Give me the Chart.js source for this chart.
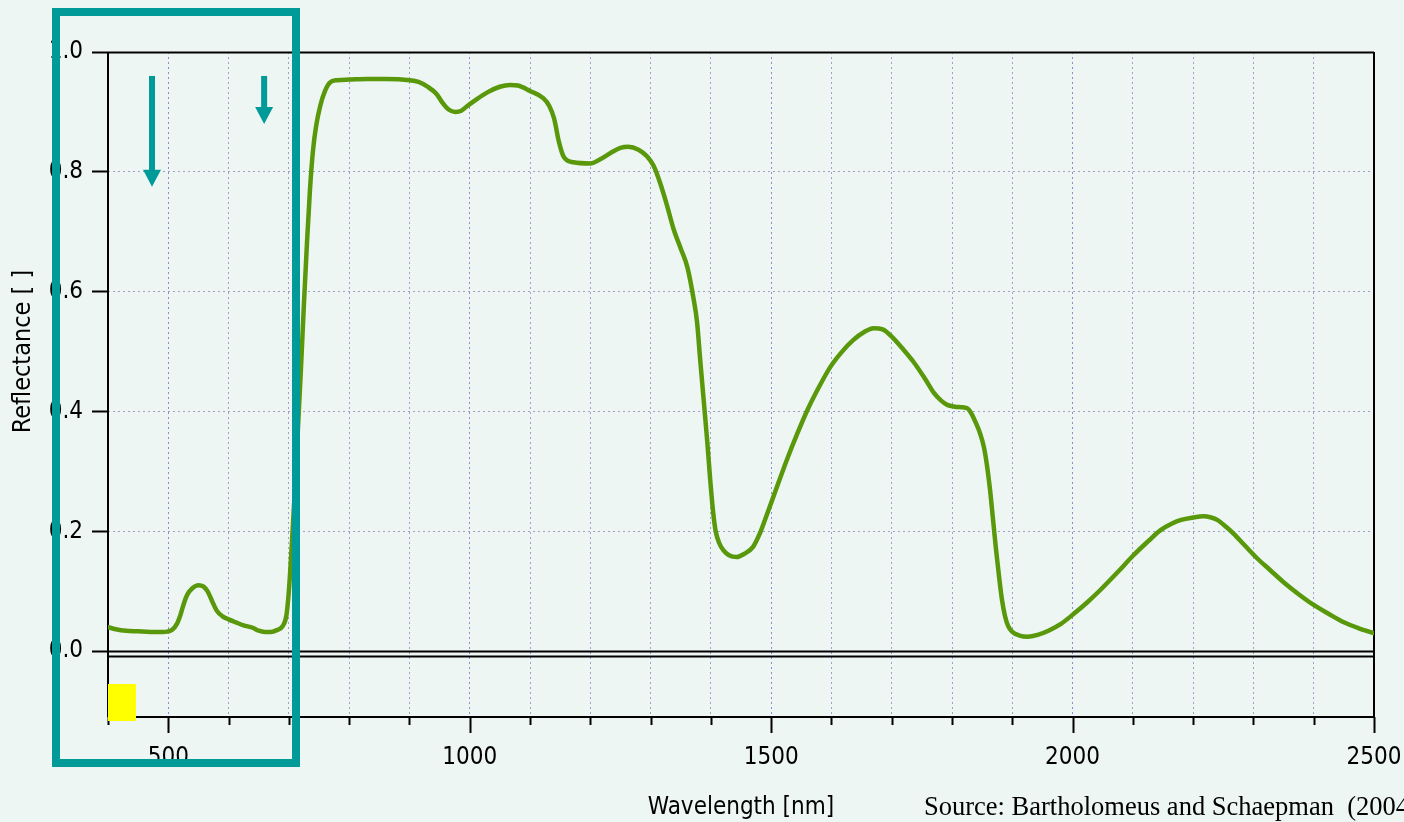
<!DOCTYPE html>
<html>
<head>
<meta charset="utf-8">
<title>Reflectance spectrum</title>
<script src="https://cdn.jsdelivr.net/npm/chart.js@4.4.1/dist/chart.umd.min.js"></script>
<style>
  html, body { margin: 0; padding: 0; background: #eef6f4; }
  #wrap { width: 1404px; height: 822px; position: relative; }
  canvas { display: block; }
</style>
</head>
<body>
<div id="wrap"><canvas id="chart" width="1404" height="822"></canvas></div>
<script>
// Vegetation reflectance spectrum, 400–2500 nm
const wavelengths = [
  400, 415, 430, 450, 470, 490, 500, 507, 514, 520, 526, 532, 540, 550, 558, 565, 572, 580, 590, 600,
  612, 625, 640, 650, 660, 670, 680, 690, 696, 700, 705, 710, 715, 720, 725, 730, 735, 740, 745, 752,
  760, 768, 780, 800, 830, 860, 900, 915, 930, 945, 955, 965, 976, 986, 995, 1010, 1030, 1050, 1067, 1080,
  1100, 1122, 1132, 1140, 1148, 1156, 1172, 1200, 1215, 1233, 1250, 1263, 1280, 1294, 1305, 1316, 1327, 1338, 1350, 1361,
  1371, 1377, 1382, 1388, 1394, 1399, 1404, 1408, 1414, 1421, 1430, 1443, 1455, 1470, 1482, 1493, 1510, 1526, 1543, 1560,
  1580, 1598, 1617, 1636, 1655, 1670, 1685, 1700, 1718, 1736, 1755, 1770, 1782, 1792, 1805, 1818, 1826, 1832, 1840, 1847,
  1853, 1858, 1863, 1868, 1873, 1878, 1883, 1888, 1893, 1900, 1912, 1925, 1942, 1960, 1980, 2003, 2025, 2046, 2075, 2101,
  2125, 2146, 2165, 2180, 2200, 2217, 2230, 2240, 2255, 2267, 2285, 2306, 2328, 2350, 2375, 2400, 2425, 2450, 2475, 2500
];
const reflectance = [
  0.040, 0.036, 0.034, 0.033, 0.032, 0.032, 0.033, 0.036, 0.045, 0.060, 0.080, 0.095, 0.105, 0.110, 0.108, 0.100, 0.085, 0.068, 0.058, 0.053,
  0.048, 0.043, 0.039, 0.034, 0.032, 0.032, 0.035, 0.042, 0.060, 0.100, 0.180, 0.270, 0.370, 0.470, 0.580, 0.680, 0.770, 0.835, 0.875, 0.910,
  0.935, 0.949, 0.953, 0.954, 0.955, 0.955, 0.953, 0.950, 0.942, 0.930, 0.915, 0.904, 0.900, 0.902, 0.909, 0.920, 0.933, 0.942, 0.945, 0.944,
  0.935, 0.923, 0.910, 0.889, 0.850, 0.825, 0.816, 0.814, 0.820, 0.831, 0.840, 0.842, 0.837, 0.826, 0.810, 0.781, 0.745, 0.705, 0.672, 0.641,
  0.590, 0.550, 0.490, 0.420, 0.350, 0.285, 0.230, 0.200, 0.180, 0.168, 0.160, 0.157, 0.162, 0.174, 0.198, 0.228, 0.275, 0.319, 0.362, 0.402,
  0.442, 0.474, 0.499, 0.519, 0.533, 0.539, 0.537, 0.525, 0.505, 0.483, 0.455, 0.431, 0.418, 0.411, 0.408, 0.407, 0.405, 0.397, 0.380, 0.362,
  0.340, 0.310, 0.270, 0.220, 0.170, 0.125, 0.085, 0.058, 0.042, 0.032, 0.026, 0.024, 0.027, 0.034, 0.045, 0.063, 0.082, 0.102, 0.132, 0.160,
  0.183, 0.202, 0.213, 0.219, 0.223, 0.225, 0.223, 0.219, 0.207, 0.196, 0.177, 0.155, 0.135, 0.115, 0.095, 0.077, 0.062, 0.048, 0.038, 0.030
];

// axis ticks
const xGridValues = [400, 500, 600, 700, 800, 900, 1000, 1100, 1200, 1300, 1400, 1500, 1600, 1700, 1800, 1900, 2000, 2100, 2200, 2300, 2400, 2500];
const xLabelValues = [500, 1000, 1500, 2000, 2500];
const yTickValues = [0, 0.2, 0.4, 0.6, 0.8, 1.0];

// absorption markers: [wavelength, start reflectance, tip reflectance]
const arrowMarks = [[473, 0.96, 0.775], [659, 0.96, 0.88]];

const SANS = "'DejaVu Sans Condensed', 'DejaVu Sans', sans-serif";
const TEAL = '#009b98';
const GRID = '#a59dcd';
const GRID_MAJOR = '#9488d0';
const FONT_SIZE = 24;

const decorations = {
  id: 'decorations',
  beforeDatasetsDraw(chart) {
    const { ctx, chartArea: a, scales: { x, y } } = chart;
    ctx.save();
    ctx.strokeStyle = '#000';
    ctx.lineWidth = 2;
    const y1 = Math.round(y.getPixelForValue(1)) + 0.5;
    const y0 = Math.round(y.getPixelForValue(0)) + 0.5;
    ctx.beginPath();
    // top border and the double zero line
    ctx.moveTo(a.left, y1); ctx.lineTo(a.right, y1);
    ctx.moveTo(a.left, y0); ctx.lineTo(a.right, y0);
    ctx.moveTo(a.left, y0 + 5); ctx.lineTo(a.right, y0 + 5);
    // bottom axis
    ctx.moveTo(a.left, a.bottom); ctx.lineTo(a.right, a.bottom);
    // left / right spines
    ctx.moveTo(a.left, a.top); ctx.lineTo(a.left, a.bottom);
    ctx.moveTo(a.right, a.top); ctx.lineTo(a.right, a.bottom);
    ctx.stroke();
    // x tick marks under the axis
    ctx.beginPath();
    x.ticks.forEach(t => {
      const px = Math.round(x.getPixelForValue(t.value)) + 0.5;
      const len = xLabelValues.includes(t.value) ? 16 : 8;
      ctx.moveTo(px, a.bottom); ctx.lineTo(px, a.bottom + len);
    });
    ctx.stroke();
    ctx.restore();
  },
  afterDraw(chart) {
    const { ctx, chartArea: a, scales: { x, y } } = chart;
    ctx.save();
    // colour swatch
    ctx.fillStyle = '#ffff00';
    ctx.fillRect(a.left, a.bottom - 33, 28, 37);

    // y axis title, centred on the 0–1 range
    const yMid = (y.getPixelForValue(0) + y.getPixelForValue(1)) / 2;
    ctx.save();
    ctx.translate(23, yMid);
    ctx.rotate(-Math.PI / 2);
    ctx.font = '25px ' + SANS;
    ctx.fillStyle = '#000';
    ctx.textAlign = 'center';
    ctx.textBaseline = 'middle';
    ctx.fillText('Reflectance [ ]', 0, 0);
    ctx.restore();

    // source note
    ctx.font = "26.5px 'Liberation Serif', 'Times New Roman', serif";
    ctx.fillStyle = '#000';
    ctx.textAlign = 'left';
    ctx.textBaseline = 'alphabetic';
    ctx.fillText('Source: Bartholomeus and Schaepman  (2004)', 924, 815);

    // arrows
    ctx.fillStyle = TEAL;
    arrowMarks.forEach(([wl, from, to]) => {
      const px = x.getPixelForValue(wl);
      const yStart = y.getPixelForValue(from);
      const yTip = y.getPixelForValue(to);
      const headLen = 17, headHalf = 9, shaftHalf = 3;
      ctx.fillRect(px - shaftHalf, yStart, shaftHalf * 2, yTip - headLen - yStart + 1);
      ctx.beginPath();
      ctx.moveTo(px - headHalf, yTip - headLen);
      ctx.lineTo(px + headHalf, yTip - headLen);
      ctx.lineTo(px, yTip);
      ctx.closePath();
      ctx.fill();
    });

    // highlight frame around the visible range
    ctx.strokeStyle = TEAL;
    ctx.lineWidth = 8;
    ctx.strokeRect(56, 12, 240, 751);
    ctx.restore();
  }
};

new Chart(document.getElementById('chart'), {
  type: 'line',
  data: {
    datasets: [{
      data: wavelengths.map((w, i) => ({ x: w, y: reflectance[i] })),
      borderColor: '#58980a',
      borderWidth: 4.5,
      pointRadius: 0,
      fill: false,
      cubicInterpolationMode: 'monotone',
      borderJoinStyle: 'round',
      borderCapStyle: 'round'
    }]
  },
  options: {
    responsive: false,
    animation: false,
    events: [],
    layout: { padding: { top: 52, right: 30, left: 0, bottom: 0 } },
    plugins: { legend: { display: false }, tooltip: { enabled: false } },
    scales: {
      x: {
        type: 'linear',
        min: 400, max: 2500,
        afterBuildTicks: s => { s.ticks = xGridValues.map(v => ({ value: v })); },
        afterFit: s => { s.height = 105; s.paddingLeft = 0; s.paddingRight = 0; },
        ticks: {
          autoSkip: false, maxRotation: 0, padding: 26, color: '#000',
          font: { family: SANS, size: FONT_SIZE },
          callback: v => xLabelValues.includes(v) ? String(v) : ''
        },
        grid: {
          color: c => (c.tick && xLabelValues.includes(c.tick.value)) ? GRID_MAJOR : GRID,
          lineWidth: 1, drawTicks: false
        },
        border: { display: false, dash: [2, 3] },
        title: {
          display: true, text: 'Wavelength [nm]', color: '#000',
          font: { family: SANS, size: FONT_SIZE }, padding: { top: 0, bottom: 0 }
        }
      },
      y: {
        min: -0.11, max: 1.0,
        afterBuildTicks: s => { s.ticks = yTickValues.map(v => ({ value: v })); },
        afterFit: s => { s.width = 108; s.paddingTop = 0; s.paddingBottom = 0; },
        ticks: {
          padding: 9, color: '#000',
          font: { family: SANS, size: FONT_SIZE },
          callback: v => v.toFixed(1)
        },
        grid: {
          color: c => (c.tick && (c.tick.value === 0 || c.tick.value === 1)) ? 'rgba(0,0,0,0)' : GRID,
          lineWidth: 1, tickLength: 16, tickColor: '#000', tickWidth: 2
        },
        border: { display: false, dash: [2, 3] }
      }
    }
  },
  plugins: [decorations]
});
</script>
</body>
</html>
